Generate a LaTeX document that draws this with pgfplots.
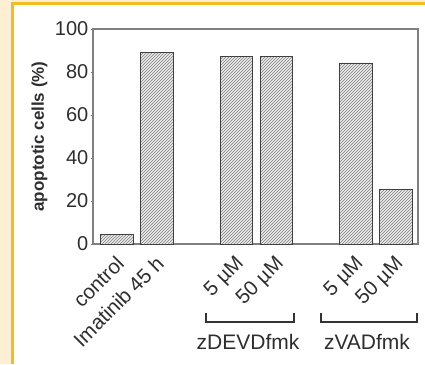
\documentclass[border=0pt]{standalone}
\usepackage{pgfplots}
\pgfplotsset{compat=1.18}
\usepackage{fontspec}
\setmainfont{Liberation Sans}
\usetikzlibrary{patterns}
\definecolor{cream}{HTML}{FCEFD3}
\definecolor{gold}{HTML}{F4BC1C}
\definecolor{txt}{HTML}{2E2E2E}
\begin{document}
\begin{tikzpicture}[x=1pt,y=1pt]
\fill[cream] (0,0) rectangle (425,364);
\fill[white] (14,0) rectangle (425,359);
\fill[gold] (11,0) rectangle (14,362);
\fill[gold] (11,359) rectangle (425,362);
\begin{axis}[
  at={(93pt,120pt)}, anchor=south west,
  scale only axis, width=325pt, height=215pt,
  xmin=-0.6, xmax=7.55, ymin=0, ymax=100,
  ytick={0,20,...,100},
  xtick={0,1,3,4,6,7},
  xticklabels={control,Imatinib 45 h,5 µM,50 µM,5 µM,50 µM},
  x tick label style={rotate=45, anchor=north east, font=\fontsize{20.5}{20.5}\selectfont, text=txt, inner sep=1pt, xshift=-6pt, yshift=-3pt},
  y tick label style={font=\fontsize{20}{20}\selectfont, text=txt, inner sep=2pt},
  major x tick style={draw=none},
  ytick pos=left,
  tick align=outside,
  major tick length=2.5pt,
  axis line style={draw=black!50, line width=1.2pt},
  ylabel={\textbf{apoptotic cells (\%)}},
  ylabel style={font=\fontsize{17}{17}\selectfont, text=txt, at={(ticklabel cs:0.5)}, yshift=2pt},
  /pgf/number format/assume math mode=true,
  clip=false,
]
\addplot[ybar, bar width=0.82, draw=black!75, line width=0.9pt, fill=black!8,
  postaction={pattern=north east lines, pattern color=black!50}]
  coordinates {(0,4.5) (1,89.2) (3,87.4) (4,87.0) (6,84.2) (7,25.4)};
\end{axis}
\draw[black!80, line width=1.2pt] (206,51) -- (206,42) -- (294,42) -- (294,51);
\draw[black!80, line width=1.2pt] (321,51) -- (321,42) -- (417,42) -- (417,51);
\node[txt, font=\fontsize{21}{21}\selectfont] at (248,22) {zDEVDfmk};
\node[txt, font=\fontsize{21}{21}\selectfont] at (367,22) {zVADfmk};
\end{tikzpicture}
\end{document}
